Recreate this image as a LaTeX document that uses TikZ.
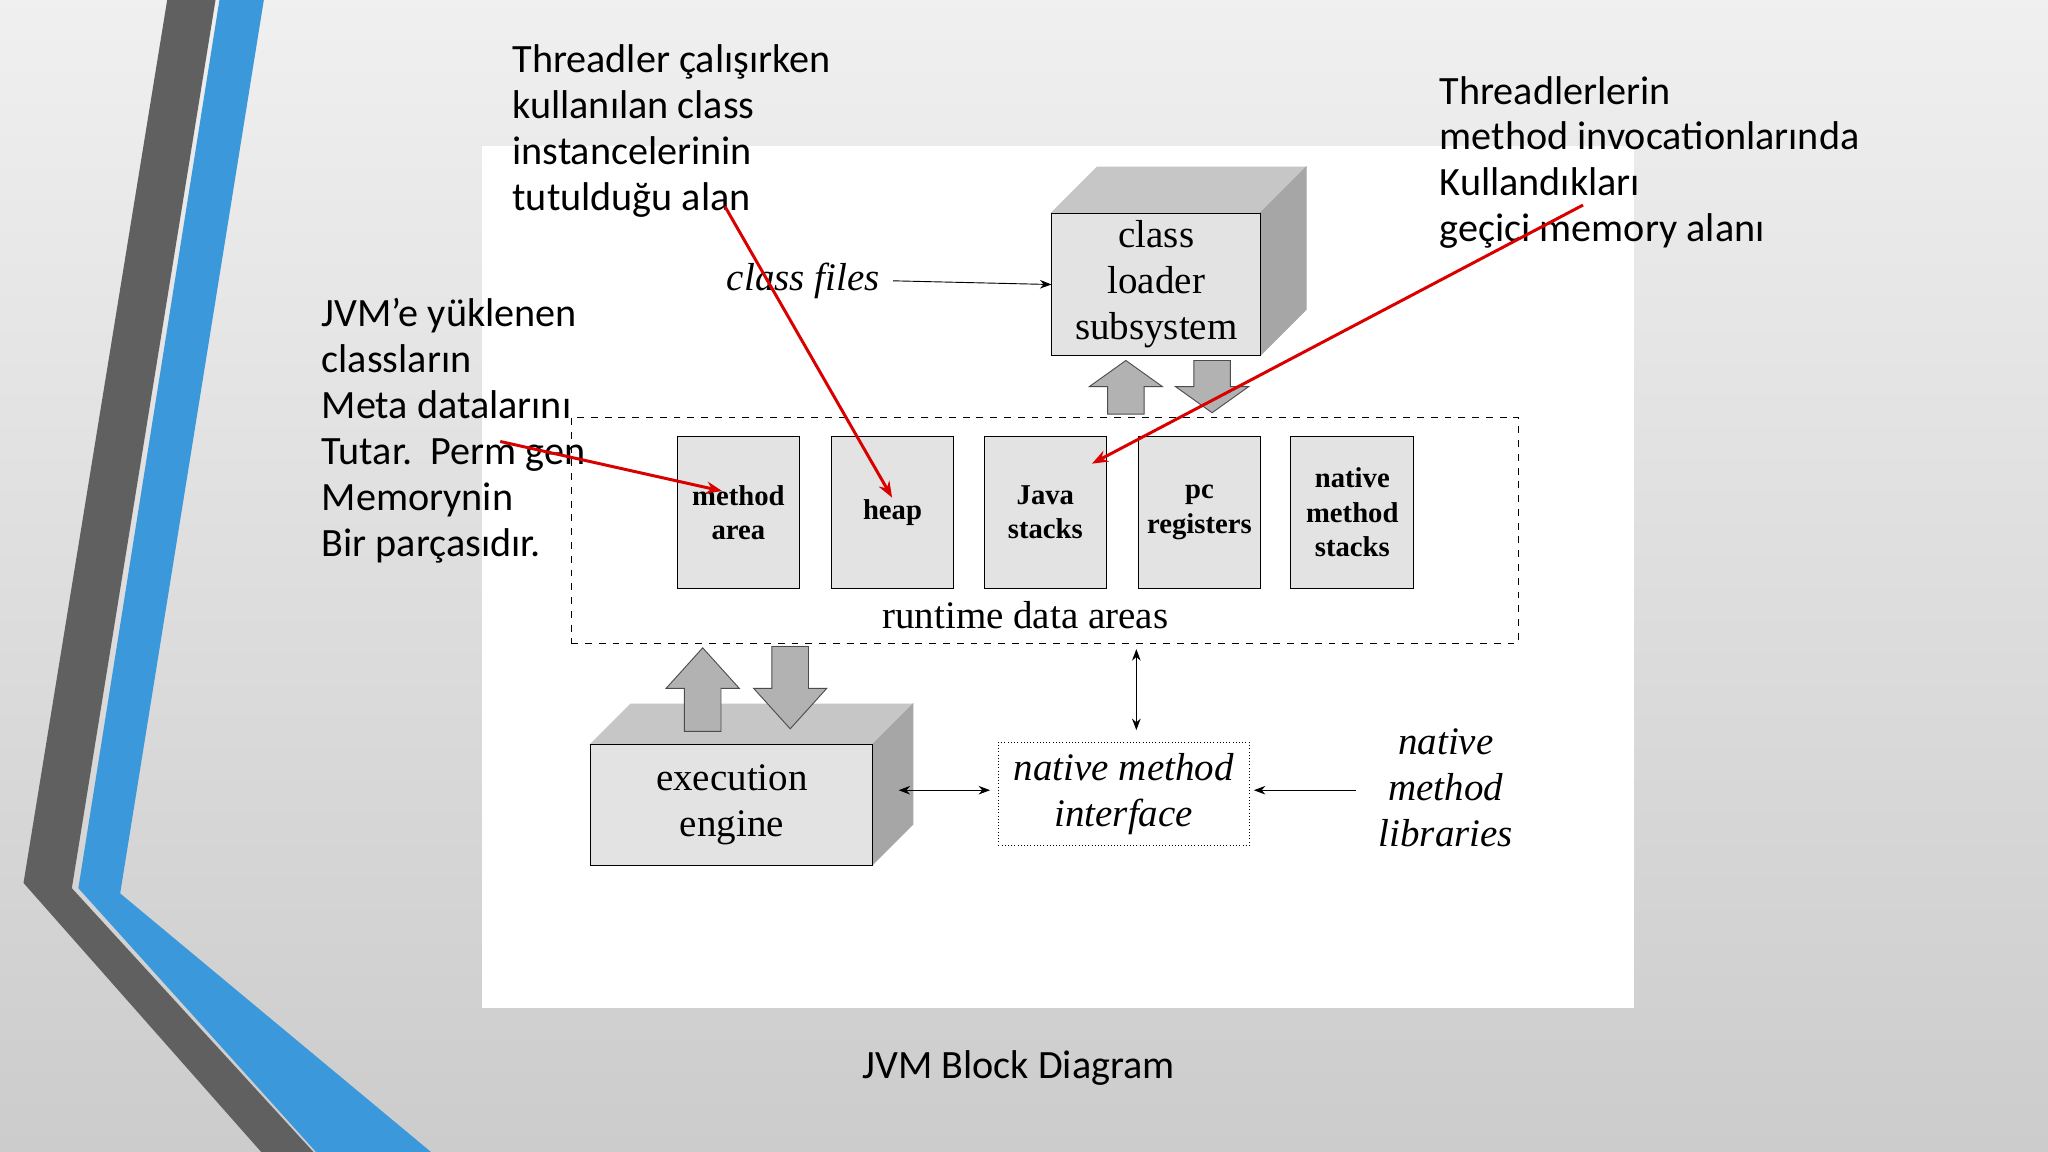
\documentclass[tikz,border=0pt]{standalone}
\usepackage{fontspec}
\setmainfont{Liberation Serif}
\newfontfamily\ann{Carlito}
\usetikzlibrary{arrows.meta}
\begin{document}
\begin{tikzpicture}[x=0.02cm,y=-0.02cm,
 annot/.style={font=\ann\fontsize{17.5}{20}\selectfont,align=left,anchor=north west,inner sep=0},
 box/.style={draw,fill=gray!22,minimum width=1.88cm,minimum height=2.32cm,font=\fontsize{12.5}{15}\selectfont\bfseries,align=center,inner sep=0},
 big/.style={font=\fontsize{17}{20}\selectfont,align=center},
 blk/.style={draw=gray!60!black,fill=gray!60},
 con/.style={-{Stealth[length=5pt]}},
 red/.style={draw=red!85!black,line width=1.3pt,-{Stealth[length=7pt]}}]
\useasboundingbox (0,0) rectangle (1568,882);
\shade[top color=gray!12,bottom color=gray!40] (0,0) rectangle (1568,882);
% stripes
\fill[gray!75!black] (128,0) -- (165,0) -- (55,680) -- (240,882) -- (200,882) -- (18,676) -- cycle;
\fill[cyan!70!blue!80] (168,0) -- (202,0) -- (92,684) -- (330,882) -- (242,882) -- (60,680) -- cycle;
\fill[white] (369,112) rectangle (1251,772);
% class loader
\fill[gray!45,draw] (805,163) -- (840,128) -- (1000,128) -- (965,163) -- cycle;
\fill[gray!70,draw] (965,163) -- (1000,128) -- (1000,237) -- (965,272) -- cycle;
\node[draw,fill=gray!22,minimum width=3.2cm,minimum height=2.18cm,anchor=north west,inner sep=0] (cl) at (805,163) {};
\node[big] at (cl) {class\\loader\\subsystem};
\node[big,font=\fontsize{17}{20}\selectfont\itshape] (cf) at (615,215) {class files};
\draw[con] (cf.east)++(4,0) -- (cl.west);
% block arrows near class loader
\draw[blk] (848,317) -- (848,296) -- (834,296) -- (862,276) -- (890,296) -- (876,296) -- (876,317) -- cycle;
\draw[blk] (914,276) -- (914,296) -- (900,296) -- (928,316) -- (956,296) -- (942,296) -- (942,276) -- cycle;
% runtime
\node[draw,dashed,minimum width=14.5cm,minimum height=3.46cm,anchor=north west] (rt) at (437,319) {};
\node[box,anchor=north west] (ma) at (518,334) {method\\area};
\node[box,anchor=north west] (hp) at (636,334) {heap};
\node[box,anchor=north west] (js) at (753,334) {Java\\stacks};
\node[box,anchor=north west] (pc) at (871,334) {pc\\registers};
\node[box,anchor=north west] (nms) at (988,334) {native\\method\\stacks};
\node[big] at (785,471) {runtime data areas};
% execution engine
\fill[gray!45,draw] (452,570) -- (483,539) -- (699,539) -- (668,570) -- cycle;
\fill[gray!70,draw] (668,570) -- (699,539) -- (699,631) -- (668,662) -- cycle;
\node[draw,fill=gray!22,minimum width=4.32cm,minimum height=1.84cm,anchor=north west,inner sep=0] (ee) at (452,570) {};
\node[big] at (ee) {execution\\engine};
\draw[blk] (524,560) -- (524,527) -- (510,527) -- (538,496) -- (566,527) -- (552,527) -- (552,560) -- cycle;
\draw[blk] (591,495) -- (591,527) -- (577,527) -- (605,558) -- (633,527) -- (619,527) -- (619,495) -- cycle;
% native interface
\node[draw,densely dotted,minimum width=3.84cm,minimum height=1.58cm,anchor=north west,inner sep=0] (nmi) at (764,568) {};
\node[big,font=\fontsize{17}{20}\selectfont\itshape] at (nmi) {native method\\interface};
\coordinate (rtb) at (870,497);
\coordinate (nmit) at (870,559);
\draw[{Stealth[length=5pt]}-{Stealth[length=5pt]}] (rtb) -- (nmit);
\coordinate (eer) at (688,605);
\coordinate (nmil) at (758,605);
\draw[{Stealth[length=5pt]}-{Stealth[length=5pt]}] (eer) -- (nmil);
\node[big,font=\fontsize{17}{20}\selectfont\itshape,align=center] (nml) at (1107,603) {native\\method\\libraries};
\coordinate (nmir) at (960,605);
\draw[con] (1038,605) -- (nmir);
% annotations
\node[annot] (a1) at (392,34) {Threadler çalışırken\\kullanılan class\\instancelerinin\\tutulduğu alan};
\node[annot] (a2) at (1102,58) {Threadlerlerin\\method invocationlarında\\Kullandıkları\\geçici memory alanı};
\node[annot] (a3) at (246,228) {JVM’e yüklenen\\classların\\Meta datalarını\\Tutar.\ \ Perm gen\\Memorynin\\Bir parçasıdır.};
\coordinate (r1) at (383,338); \coordinate (r2) at (555,158); \coordinate (r3) at (1212,157);
\coordinate (t1) at (553,376); \coordinate (t2) at (683,381); \coordinate (t3) at (836,355);
\draw[red] (r1) -- (t1);
\draw[red] (r2) -- (t2);
\draw[red] (r3) -- (t3);
\node[font=\ann\fontsize{17.5}{20}\selectfont] (title) at (780,818) {JVM Block Diagram};
\end{tikzpicture}
\end{document}
